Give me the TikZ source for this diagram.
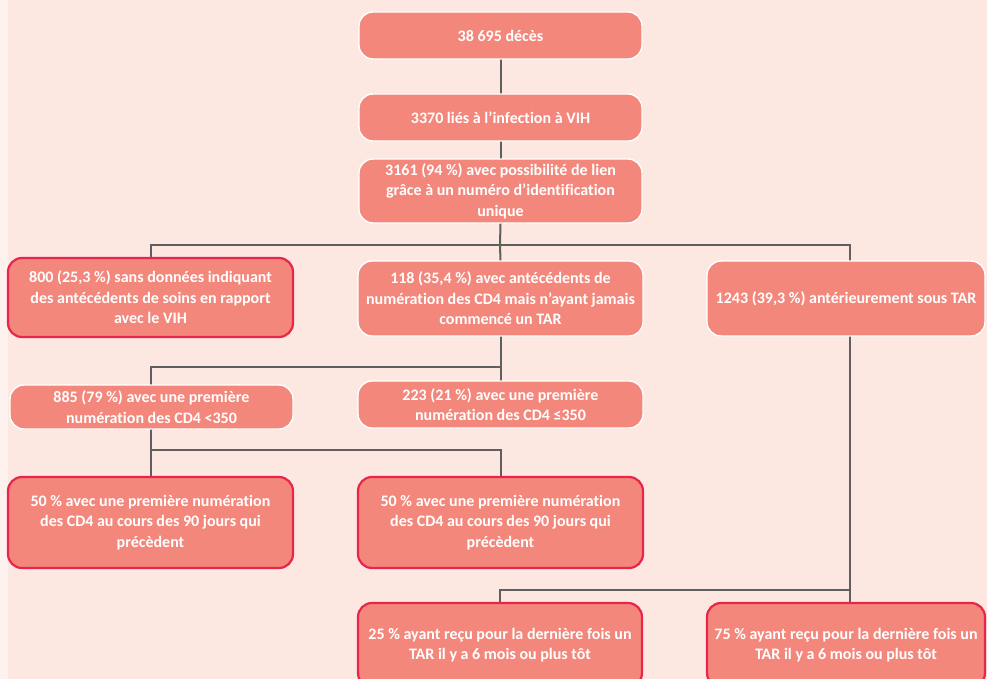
\documentclass[tikz,border=0pt]{standalone}
\usepackage{fontspec}
\setmainfont{Carlito}[Ligatures={NoCommon}]
\usetikzlibrary{backgrounds}
\definecolor{pagebg}{HTML}{FCE7E1}
\definecolor{stripbg}{HTML}{FDF2EE}
\definecolor{boxfill}{HTML}{F4877B}
\definecolor{boxred}{HTML}{E8254A}
\definecolor{linkgray}{HTML}{5F5F5F}
\begin{document}
\begin{tikzpicture}[x=1pt,y=-1pt,
  flowbox/.style={draw=white, line width=1.4pt, fill=boxfill, rounded corners=14pt,
    text=white, font=\bfseries\fontsize{16}{20.5}\selectfont, align=center,
    inner sep=0pt, outer sep=0pt},
  redbox/.style={flowbox, draw=boxred, line width=2.2pt},
  conn/.style={draw=linkgray, line width=2pt}]
  \useasboundingbox (0,0) rectangle (987,679);

  % top chain
  \node[flowbox, minimum width=283pt, minimum height=47pt] (b1) at (500.5,35.5) {38 695 décès};
  \node[flowbox, minimum width=283pt, minimum height=47pt] (b2) at (500.5,117.5) {3370 liés à l’infection à VIH};
  \node[flowbox, minimum width=283pt, minimum height=64pt] (b3) at (500.5,191)
    {3161 (94 \%) avec possibilité de lien\\grâce à un numéro d’identification\\unique};

  % second row
  \node[redbox, minimum width=285pt, minimum height=79pt] (bA) at (150.5,297.5)
    {800 (25,3 \%) sans données indiquant\\des antécédents de soins en rapport\\avec le VIH};
  \node[flowbox, minimum width=285pt, minimum height=75pt] (bB) at (500.5,298.5)
    {118 (35,4 \%) avec antécédents de\\numération des CD4 mais n’ayant jamais\\commencé un TAR};
  \node[flowbox, minimum width=278pt, minimum height=75pt] (bC) at (846,298.5)
    {1243 (39,3 \%) antérieurement sous TAR};

  % third row
  \node[flowbox, minimum width=283pt, minimum height=44pt] (bD) at (151.5,407)
    {885 (79 \%) avec une première\\numération des CD4 <350};
  \node[flowbox, minimum width=285pt, minimum height=47pt] (bE) at (500.5,404.5)
    {223 (21 \%) avec une première\\numération des CD4 ≤350};

  % fourth row
  \node[redbox, minimum width=285pt, minimum height=91pt] (bF) at (150.5,522.5)
    {50 \% avec une première numération\\des CD4 au cours des 90 jours qui\\précèdent};
  \node[redbox, minimum width=285pt, minimum height=91pt] (bG) at (500.5,522.5)
    {50 \% avec une première numération\\des CD4 au cours des 90 jours qui\\précèdent};

  % bottom row
  \node[redbox, minimum width=284pt, minimum height=84pt] (bH) at (500,645)
    {25 \% ayant reçu pour la dernière fois un\\TAR il y a 6 mois ou plus tôt};
  \node[redbox, minimum width=278pt, minimum height=84pt] (bI) at (846,645)
    {75 \% ayant reçu pour la dernière fois un\\TAR il y a 6 mois ou plus tôt};

  % junction points
  \coordinate (j1) at (500,245);
  \coordinate (j2) at (500,367);
  \coordinate (j3) at (151,450);
  \coordinate (j4) at (850,590);
  \coordinate (cTop) at (850,262);
  \coordinate (cBot) at (850,336);

  \begin{scope}[on background layer]
    \fill[pagebg] (0,0) rectangle (987,679);
    \fill[stripbg] (0,0) rectangle (8,679);
    \draw[conn] (b1.south) -- (b2.north);
    \draw[conn] (b2.south) -- (b3.north);
    \draw[conn] (b3.south) -- (j1);
    \draw[conn] (bA.north -| j3) |- (j1) -| (cTop);
    \draw[conn] (j1) -- (bB.north);
    \draw[conn] (bB.south) -- (bE.north);
    \draw[conn] (j2) -| (bD.north -| j3);
    \draw[conn] (bD.south -| j3) -- (bF.north -| j3);
    \draw[conn] (j3) -| (bG.north);
    \draw[conn] (cBot) -- (j4);
    \draw[conn] (j4) -| (bH.north);
    \draw[conn] (j4) -- (bI.north -| j4);
  \end{scope}
\end{tikzpicture}
\end{document}
